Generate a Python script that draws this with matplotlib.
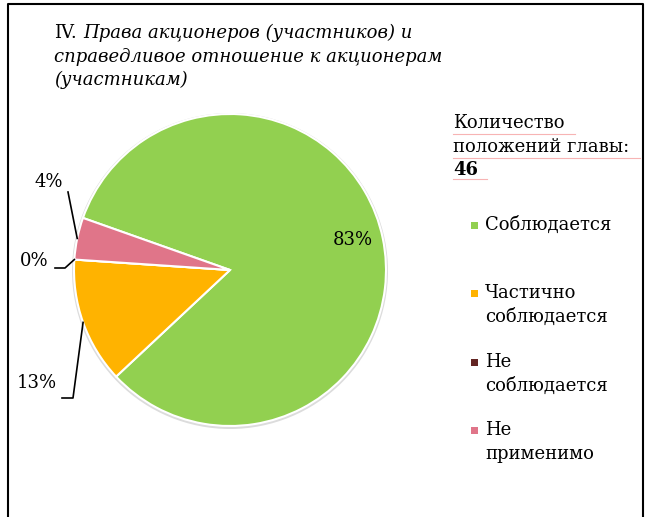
import numpy as np
import matplotlib.pyplot as plt
from matplotlib.patches import Rectangle, Circle

# data
categories = ["Соблюдается", "Частично\nсоблюдается", "Не\nсоблюдается", "Не\nприменимо"]
counts = [38, 6, 0, 2]
colors = ["#92D050", "#FFB300", "#632523", "#E07589"]
total_label = "46"

W, H = 649, 517
FONT = "DejaVu Serif"
FS = 13

fig = plt.figure(figsize=(W / 100, H / 100), dpi=100)
ax = fig.add_axes([0, 0, 1, 1])

cx, cy, r = 230, H - 270, 156
start = 160.5

# faint shadow around the pie
ax.add_patch(Circle((cx, cy - 1), r + 2, facecolor="#dcdcdc", edgecolor="none", zorder=0))
wedges, _ = ax.pie(counts, colors=colors, startangle=start, counterclock=False,
                   center=(cx, cy), radius=r, frame=True,
                   wedgeprops=dict(edgecolor="white", linewidth=1.5))
ax.set_xlim(0, W)
ax.set_ylim(0, H)
ax.set_aspect("equal")
ax.axis("off")

pct = [round(100 * c / sum(counts)) for c in counts]

# 83% inside
ax.text(353, H - 240, f"{pct[0]}%", fontsize=FS, family=FONT, ha="center", va="center")


def edge_point(w, rr=1.0):
    ang = np.deg2rad((w.theta1 + w.theta2) / 2)
    return cx + rr * r * np.cos(ang), cy + rr * r * np.sin(ang)


# 13%
px, py = edge_point(wedges[1])
ax.plot([62, 73, px], [H - 398, H - 398, py], color="black", lw=1.2)
ax.text(37, H - 383, f"{pct[1]}%", fontsize=FS, family=FONT, ha="center", va="center")
# 0%
px, py = edge_point(wedges[2])
ax.plot([55, 65, px], [H - 268, H - 268, py], color="black", lw=1.2)
ax.text(34, H - 261, f"{pct[2]}%", fontsize=FS, family=FONT, ha="center", va="center")
# 4%
px, py = edge_point(wedges[3])
ax.plot([68, px], [H - 192, py], color="black", lw=1.2)
ax.text(49, H - 182, f"{pct[3]}%", fontsize=FS, family=FONT, ha="center", va="center")

# title
ax.text(54, H - 33, "IV.", fontsize=FS, family=FONT, va="center")
ax.text(83, H - 33, "Права акционеров (участников) и", fontsize=FS, family=FONT,
        style="italic", va="center")
ax.text(54, H - 57, "справедливое отношение к акционерам", fontsize=FS, family=FONT,
        style="italic", va="center")
ax.text(54, H - 80, "(участникам)", fontsize=FS, family=FONT, style="italic", va="center")

# chapter count box
ax.text(453, H - 123, "Количество", fontsize=FS, family=FONT, va="center")
ax.text(453, H - 147, "положений главы:", fontsize=FS, family=FONT, va="center")
ax.text(453, H - 170, total_label, fontsize=FS, family=FONT, weight="bold", va="center")
for x0, x1, y in [(453, 575, 134), (453, 640, 158), (453, 487, 179)]:
    ax.plot([x0, x1], [H - y, H - y], color="#F7B4B4", lw=0.8)

# legend
leg_y = [225, 293, 362, 430]
for cat, col, y in zip(categories, colors, leg_y):
    ax.add_patch(Rectangle((471, H - y - 3.5), 7, 7, facecolor=col, edgecolor="none"))
    for i, line in enumerate(cat.split("\n")):
        ax.text(485, H - y - 24 * i, line, fontsize=FS, family=FONT, va="center")

# frame
ax.plot([8, 8, 643, 643], [0, H - 4, H - 4, 0], color="black", lw=1.5)

fig.savefig("out.png", dpi=100)
